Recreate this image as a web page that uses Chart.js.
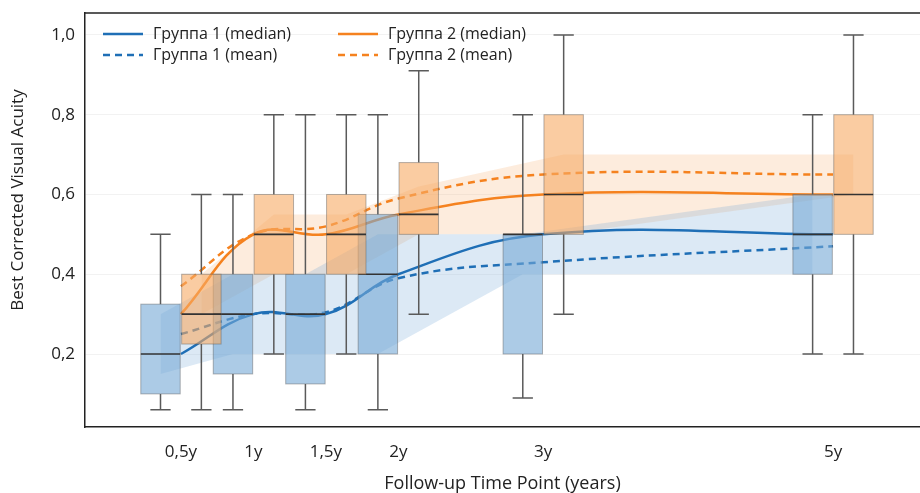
<!DOCTYPE html>
<html>
<head>
<meta charset="utf-8">
<script src="https://cdn.jsdelivr.net/npm/chart.js@4.4.1/dist/chart.umd.min.js"></script>
<style>
  html, body { margin: 0; padding: 0; background: #fff; }
  #wrap { width: 920px; height: 493px; }
</style>
</head>
<body>
<div id="wrap"><canvas id="acuityChart" width="920" height="493"></canvas></div>
<script>
// Follow-up time points (years) and their labels
const timePoints = [0.5, 1, 1.5, 2, 3, 5];
const timeLabels = ['0,5y', '1y', '1,5y', '2y', '3y', '5y'];
const yTicks = [0.2, 0.4, 0.6, 0.8, 1.0];

// Группа 1 – box statistics
const g1Min    = [0.06, 0.06, 0.06, 0.06, 0.09, 0.2];
const g1Q1     = [0.10, 0.15, 0.125, 0.2, 0.2, 0.4];
const g1Median = [0.2, 0.3, 0.3, 0.4, 0.5, 0.5];
const g1Q3     = [0.325, 0.4, 0.4, 0.55, 0.5, 0.6];
const g1Max    = [0.5, 0.6, 0.8, 0.8, 0.8, 0.8];
const g1Mean   = [0.25, 0.3, 0.305, 0.39, 0.43, 0.47];
const g1BandLow  = [0.15, 0.2, 0.2, 0.2, 0.4, 0.4];
const g1BandHigh = [0.3, 0.4, 0.4, 0.5, 0.5, 0.6];

// Группа 2 – box statistics
const g2Min    = [0.06, 0.2, 0.2, 0.3, 0.3, 0.2];
const g2Q1     = [0.225, 0.4, 0.4, 0.5, 0.5, 0.5];
const g2Median = [0.3, 0.5, 0.5, 0.55, 0.6, 0.6];
const g2Q3     = [0.4, 0.6, 0.6, 0.68, 0.8, 0.8];
const g2Max    = [0.6, 0.8, 0.8, 0.91, 1.0, 1.0];
const g2Mean   = [0.37, 0.5, 0.52, 0.59, 0.65, 0.65];
const g2BandLow  = [0.3, 0.4, 0.4, 0.5, 0.5, 0.6];
const g2BandHigh = [0.4, 0.55, 0.55, 0.62, 0.7, 0.7];

const BLUE = '#1f6fb6';
const ORANGE = '#f5821f';
const BOX_W = 0.272;   // box width in years
const CAP_W = 0.14;    // whisker cap width in years
const FONT = "'Open Sans', 'DejaVu Sans', sans-serif";

const groups = [
  { offset: -0.141, min: g1Min, q1: g1Q1, med: g1Median, q3: g1Q3, max: g1Max, fill: 'rgba(116,169,214,0.6)' },
  { offset: 0.141, min: g2Min, q1: g2Q1, med: g2Median, q3: g2Q3, max: g2Max, fill: 'rgba(247,170,100,0.6)' }
];

const pts = (vals, off = 0) => timePoints.map((t, i) => ({ x: t + off, y: vals[i] }));

function lineSet(label, vals, color, dashed) {
  return {
    label, data: pts(vals), borderColor: color, borderWidth: 2.5,
    borderDash: dashed ? [7, 5] : [], pointRadius: 0, tension: 0.4, fill: false
  };
}
function bandSet(vals, fillTarget, color, off) {
  return {
    label: '', data: pts(vals, off), borderWidth: 0, pointRadius: 0, tension: 0,
    backgroundColor: color, fill: fillTarget === null ? false : fillTarget
  };
}

const boxPlugin = {
  id: 'boxes',
  afterDatasetsDraw(chart) {
    const { ctx, scales: { x, y } } = chart;
    ctx.save();
    groups.forEach(g => {
      timePoints.forEach((t, i) => {
        const c = t + g.offset;
        const xc = x.getPixelForValue(c);
        const x0 = x.getPixelForValue(c - BOX_W / 2);
        const x1 = x.getPixelForValue(c + BOX_W / 2);
        const cl = x.getPixelForValue(c - CAP_W / 2);
        const cr = x.getPixelForValue(c + CAP_W / 2);
        const yMin = y.getPixelForValue(g.min[i]);
        const yQ1 = y.getPixelForValue(g.q1[i]);
        const yMed = y.getPixelForValue(g.med[i]);
        const yQ3 = y.getPixelForValue(g.q3[i]);
        const yMax = y.getPixelForValue(g.max[i]);

        ctx.strokeStyle = '#5a5a5a';
        ctx.lineWidth = 1.5;
        ctx.beginPath();
        ctx.moveTo(xc, yQ3); ctx.lineTo(xc, yMax);
        ctx.moveTo(cl, yMax); ctx.lineTo(cr, yMax);
        ctx.moveTo(xc, yQ1); ctx.lineTo(xc, yMin);
        ctx.moveTo(cl, yMin); ctx.lineTo(cr, yMin);
        ctx.stroke();

        ctx.fillStyle = g.fill;
        ctx.fillRect(x0, yQ3, x1 - x0, yQ1 - yQ3);
        ctx.strokeStyle = 'rgba(90,90,90,0.45)';
        ctx.lineWidth = 1;
        ctx.strokeRect(x0, yQ3, x1 - x0, yQ1 - yQ3);

        ctx.strokeStyle = '#333';
        ctx.lineWidth = 1.6;
        ctx.beginPath();
        ctx.moveTo(x0, yMed); ctx.lineTo(x1, yMed);
        ctx.stroke();
      });
    });
    ctx.restore();
  }
};

const framePlugin = {
  id: 'frame',
  afterDraw(chart) {
    const { ctx, chartArea: a } = chart;
    ctx.save();
    // top border
    ctx.strokeStyle = '#222';
    ctx.lineWidth = 1.5;
    ctx.beginPath();
    ctx.moveTo(a.left, a.top); ctx.lineTo(a.right, a.top);
    ctx.stroke();

    // y axis title
    ctx.fillStyle = '#222';
    ctx.font = '17px ' + FONT;
    ctx.textAlign = 'center';
    ctx.textBaseline = 'middle';
    ctx.translate(18, 200);
    ctx.rotate(-Math.PI / 2);
    ctx.fillText('Best Corrected Visual Acuity', 0, 0);
    ctx.restore();

    // legend, two columns
    const items = [
      { text: 'Группа 1 (median)', color: BLUE, dash: [], col: 0, row: 0 },
      { text: 'Группа 1 (mean)', color: BLUE, dash: [7, 5], col: 0, row: 1 },
      { text: 'Группа 2 (median)', color: ORANGE, dash: [], col: 1, row: 0 },
      { text: 'Группа 2 (mean)', color: ORANGE, dash: [7, 5], col: 1, row: 1 }
    ];
    ctx.save();
    ctx.font = '16px ' + FONT;
    ctx.textBaseline = 'middle';
    items.forEach(it => {
      const lx = a.left + 18 + it.col * 235;
      const ly = a.top + 21 + it.row * 21;
      ctx.strokeStyle = it.color;
      ctx.lineWidth = 2.5;
      ctx.setLineDash(it.dash);
      ctx.beginPath();
      ctx.moveTo(lx, ly); ctx.lineTo(lx + 40, ly);
      ctx.stroke();
      ctx.setLineDash([]);
      ctx.fillStyle = '#222';
      ctx.fillText(it.text, lx + 50, ly);
    });
    ctx.restore();
  }
};

new Chart(document.getElementById('acuityChart'), {
  type: 'line',
  data: {
    datasets: [
      lineSet('Группа 1 (median)', g1Median, BLUE, false),
      lineSet('Группа 1 (mean)', g1Mean, BLUE, true),
      lineSet('Группа 2 (median)', g2Median, ORANGE, false),
      lineSet('Группа 2 (mean)', g2Mean, ORANGE, true),
      bandSet(g1BandLow, null, 'rgba(0,0,0,0)', -0.141),
      bandSet(g1BandHigh, 4, 'rgba(116,169,214,0.25)', -0.141),
      bandSet(g2BandLow, null, 'rgba(0,0,0,0)', 0.141),
      bandSet(g2BandHigh, 6, 'rgba(247,170,100,0.22)', 0.141)
    ]
  },
  options: {
    responsive: false,
    animation: false,
    devicePixelRatio: 1,
    layout: { padding: { top: 13, right: 0, left: 0, bottom: 0 } },
    plugins: { legend: { display: false }, tooltip: { enabled: false } },
    scales: {
      x: {
        type: 'linear',
        min: -0.162,
        max: 5.6,
        afterBuildTicks: (axis) => { axis.ticks = timePoints.map(v => ({ value: v })); },
        afterFit: (axis) => { axis.height = 66; },
        grid: { display: false },
        border: { display: true, color: '#222', width: 1.5 },
        ticks: {
          padding: 7,
          color: '#222',
          font: { family: FONT, size: 17 },
          maxRotation: 0,
          autoSkip: false,
          callback: (v) => timeLabels[timePoints.indexOf(v)]
        },
        title: {
          display: true,
          text: 'Follow-up Time Point (years)',
          color: '#222',
          font: { family: FONT, size: 18 },
          padding: { top: 0, bottom: -2 }
        }
      },
      y: {
        min: 0.017,
        max: 1.055,
        afterBuildTicks: (axis) => { axis.ticks = yTicks.map(v => ({ value: v })); },
        afterFit: (axis) => { axis.width = 85; axis.paddingTop = 0; axis.paddingBottom = 0; },
        grid: { color: 'rgba(0,0,0,0.05)', drawTicks: false },
        border: { display: true, color: '#222', width: 1.5 },
        ticks: {
          padding: 10,
          color: '#222',
          font: { family: FONT, size: 17 },
          callback: (v) => v.toFixed(1).replace('.', ',')
        }
      }
    }
  },
  plugins: [boxPlugin, framePlugin]
});
</script>
</body>
</html>
